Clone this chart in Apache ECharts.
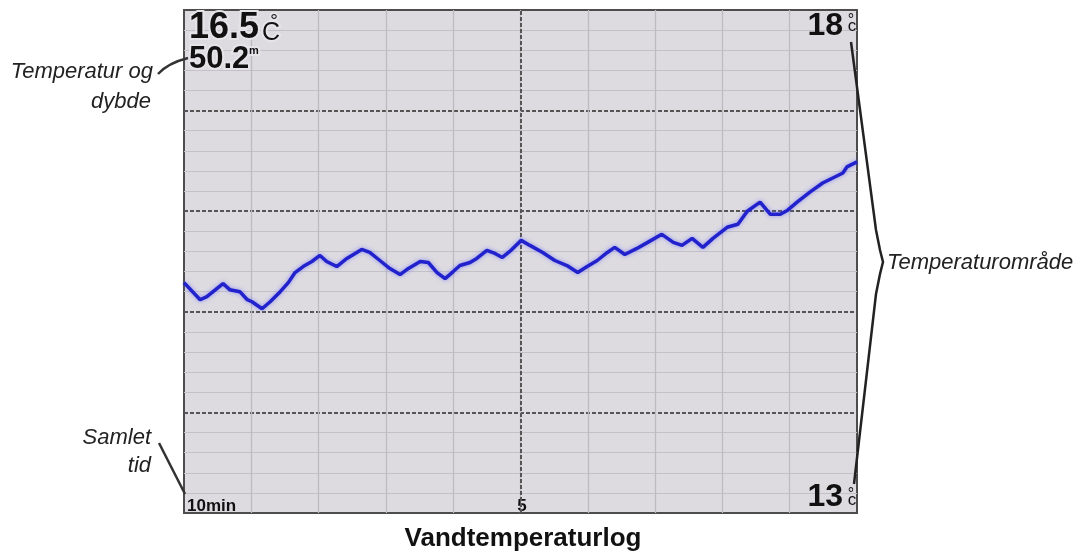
<!DOCTYPE html>
<html>
<head>
<meta charset="utf-8">
<script src="https://cdn.jsdelivr.net/npm/echarts@6/dist/echarts.min.js"></script>
<style>
html,body{margin:0;padding:0;background:#fff;}
#c{width:1084px;height:554px;}
</style>
</head>
<body>
<div id="c"></div>
<script>
// minutes elapsed from the left edge of the log (left = 10 min ago)
const minutes = [0.00,0.24,0.34,0.58,0.68,0.83,0.94,1.01,1.16,1.28,1.43,1.55,1.65,1.77,1.90,2.02,2.12,2.27,2.42,2.64,2.76,2.91,3.06,3.21,3.31,3.51,3.63,3.76,3.88,4.00,4.10,4.25,4.35,4.50,4.62,4.73,4.84,5.01,5.14,5.33,5.51,5.69,5.85,5.99,6.14,6.29,6.40,6.55,6.73,6.89,7.10,7.27,7.40,7.55,7.71,7.86,8.07,8.23,8.37,8.56,8.71,8.86,8.97,9.11,9.30,9.49,9.67,9.79,9.85,10.00];
// water temperature, °C
const temps = [15.29,15.12,15.15,15.28,15.22,15.20,15.12,15.10,15.03,15.10,15.20,15.29,15.39,15.45,15.50,15.56,15.50,15.45,15.53,15.62,15.59,15.51,15.43,15.37,15.42,15.50,15.49,15.39,15.33,15.40,15.46,15.49,15.53,15.61,15.58,15.54,15.60,15.71,15.66,15.59,15.51,15.46,15.39,15.45,15.51,15.59,15.64,15.57,15.63,15.69,15.77,15.69,15.66,15.73,15.64,15.73,15.84,15.87,16.00,16.09,15.97,15.97,16.01,16.09,16.19,16.28,16.34,16.38,16.44,16.49];
const xTickValues = [0, 5];
const xTickLabels = ['10min', '5'];
const yTickValues = [13, 18];
const yTickLabels = ['13', '18'];
const centerMinute = 5;
const readingTemp = '16.5';
const readingDepth = '50.2';
const titleText = 'Vandtemperaturlog';

const chart = echarts.init(document.getElementById('c'), null, {renderer: 'canvas'});
const F = '"Liberation Sans", Arial, sans-serif';
const ink = '#111';
const halo = '#e6e4e9';

function txt(x, y, text, font, align, extra) {
  return Object.assign({type: 'text', x: x, y: y, z: 100,
    style: {text: text, font: font, fill: ink, align: align, verticalAlign: 'middle'}}, extra || {});
}
function haloTxt(x, y, text, font, align) {
  return {type: 'text', x: x, y: y, z: 100,
    style: {text: text, font: font, fill: ink, align: align, verticalAlign: 'middle',
            stroke: halo, lineWidth: 4, strokeFirst: true}};
}

chart.setOption({
  animation: false,
  grid: {left: 184, top: 10, width: 673, height: 503, show: true,
         backgroundColor: '#dddbe0', borderColor: '#4d4d4d', borderWidth: 2},
  xAxis: {
    type: 'value', min: 0, max: 10, interval: 1,
    axisLine: {show: false}, axisTick: {show: false},
    splitLine: {show: true, showMinLine: false, showMaxLine: false,
                lineStyle: {color: '#bdbbc1', width: 1.3}},
    axisLabel: {
      inside: true, margin: 0, alignMinLabel: 'left',
      formatter: v => { const i = xTickValues.indexOf(v); return i >= 0 ? xTickLabels[i] : ''; },
      fontFamily: F, fontWeight: 'bold', fontSize: 17, color: ink, lineHeight: 14,
      padding: [0, 0, 0, 3]
    }
  },
  yAxis: {
    type: 'value', position: 'right', min: 13, max: 18, interval: 1,
    axisLine: {show: false}, axisTick: {show: false},
    splitLine: {show: true, showMinLine: false, showMaxLine: false,
                lineStyle: {color: '#555', width: 2, type: [4, 2]}},
    minorTick: {show: false, splitNumber: 5},
    minorSplitLine: {show: true, lineStyle: {color: '#c3c1c7', width: 1.2}},
    axisLabel: {
      inside: true, margin: 14,
      verticalAlignMinLabel: 'bottom', verticalAlignMaxLabel: 'top',
      formatter: v => { const i = yTickValues.indexOf(v); return i >= 0 ? yTickLabels[i] : ''; },
      fontFamily: F, fontWeight: 'bold', fontSize: 32, color: ink, lineHeight: 32
    }
  },
  series: [{
    type: 'line',
    data: minutes.map((m, i) => [m, temps[i]]),
    showSymbol: false, symbol: 'none', clip: false, z: 3,
    lineStyle: {color: '#2222cc', width: 3.5, shadowColor: 'rgba(90,90,255,0.6)', shadowBlur: 4},
    markLine: {
      silent: true, symbol: ['none', 'none'], label: {show: false},
      lineStyle: {color: '#555', width: 2, type: [4, 2]},
      data: [{xAxis: centerMinute}], z: 2
    }
  }],
  graphic: [
    // current reading
    haloTxt(189, 28, readingTemp, 'bold 36px ' + F, 'left'),
    haloTxt(274, 22, '°', '19px ' + F, 'center'),
    haloTxt(262, 33, 'C', '25px ' + F, 'left'),
    haloTxt(189, 59, readingDepth, 'bold 31px ' + F, 'left'),
    haloTxt(249, 51, 'm', 'bold 11px ' + F, 'left'),
    // units next to range labels
    txt(851, 21, '°', '16px ' + F, 'center'),
    txt(852, 26.5, 'c', '17px ' + F, 'center'),
    txt(851, 495, '°', '16px ' + F, 'center'),
    txt(852, 500, 'c', '17px ' + F, 'center'),
    // annotations
    txt(153, 72, 'Temperatur og', 'italic 22px ' + F, 'right', {style: {text: 'Temperatur og', font: 'italic 22px ' + F, fill: '#222', align: 'right', verticalAlign: 'middle'}}),
    txt(151, 102, 'dybde', 'italic 22px ' + F, 'right', {style: {text: 'dybde', font: 'italic 22px ' + F, fill: '#222', align: 'right', verticalAlign: 'middle'}}),
    txt(151, 438, 'Samlet', 'italic 22px ' + F, 'right', {style: {text: 'Samlet', font: 'italic 22px ' + F, fill: '#222', align: 'right', verticalAlign: 'middle'}}),
    txt(151, 466, 'tid', 'italic 22px ' + F, 'right', {style: {text: 'tid', font: 'italic 22px ' + F, fill: '#222', align: 'right', verticalAlign: 'middle'}}),
    txt(887, 263, 'Temperaturområde', 'italic 22px ' + F, 'left', {style: {text: 'Temperaturområde', font: 'italic 22px ' + F, fill: '#222', align: 'left', verticalAlign: 'middle'}}),
    // leader lines
    {type: 'bezierCurve', z: 100, shape: {x1: 158, y1: 74, x2: 188, y2: 58, cpx1: 168, cpy1: 63},
     style: {stroke: '#333', lineWidth: 2.5, fill: null}},
    {type: 'line', z: 100, shape: {x1: 159, y1: 443, x2: 185, y2: 494}, style: {stroke: '#333', lineWidth: 2.5}},
    {type: 'polyline', z: 100, shape: {points: [[851, 42], [876, 230], [880, 250], [883, 262], [880, 274], [876, 294], [854, 484]]},
     style: {stroke: '#222', lineWidth: 2.5, fill: null}},
    // caption
    txt(523, 539, titleText, 'bold 26px ' + F, 'center')
  ]
});
</script>
</body>
</html>
